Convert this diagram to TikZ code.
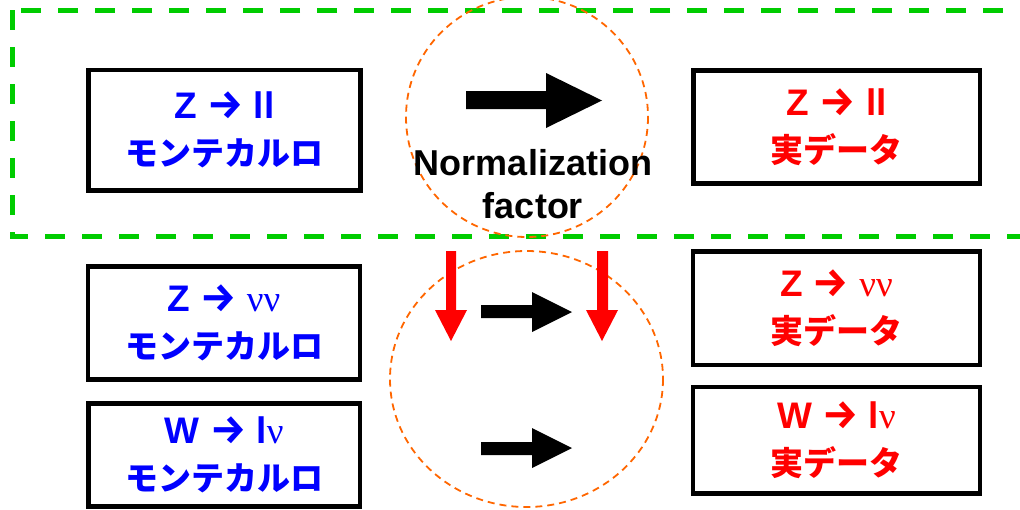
\documentclass[tikz,border=0pt]{standalone}
\usepackage{fontspec}
\setmainfont{Liberation Sans}
\newfontfamily\jpf{Noto Sans CJK JP}
\newfontfamily\latf{Liberation Sans}[Scale=1.12]
\newfontfamily\grkf{Liberation Serif}[Scale=1.12]
\newfontfamily\arwf{Fira Sans}[Scale=1.22]
\newcommand\arw{{\arwf\bfseries →}}
\definecolor{dgreen}{RGB}{0,204,0}
\definecolor{dorange}{RGB}{255,102,0}
\definecolor{mcblue}{RGB}{0,0,255}
\definecolor{dred}{RGB}{255,0,0}
\tikzset{
  box/.style={draw=black, line width=4.5pt, rectangle, inner sep=0pt, align=center,
    font=\fontsize{33}{47}\selectfont},
  mcbox/.style={box, text=mcblue},
  databox/.style={box, text=dred},
  ring/.style={draw=dorange, line width=1.8pt, dash pattern=on 7pt off 5pt},
  region/.style={draw=dgreen, line width=5pt, dash pattern=on 20pt off 17pt},
  blackarrow/.style={fill=black},
  redarrow/.style={fill=dred},
  labeltext/.style={align=center, inner sep=0pt, font=\fontsize{36}{43}\selectfont\bfseries}
}
\begin{document}
\begin{tikzpicture}[x=1pt,y=-1pt]
\useasboundingbox (0,0) rectangle (1020,509);
\clip (0,0) rectangle (1020,509);

% green dashed region
\draw[region] (12,10) rectangle (1040,236);

% orange dashed circles
\draw[ring] (527,117) ellipse [x radius=121, y radius=120];
\draw[ring] (526.5,379) ellipse [x radius=136.5, y radius=128];

% boxes
\node[mcbox, minimum width=272pt, minimum height=120.5pt] (mc1) at (224.5,130.25)
  {{\latf\bfseries Z \arw\ ll}\\{\jpf\bfseries モンテカルロ}};
\node[databox, minimum width=286.5pt, minimum height=113pt] (dat1) at (836.75,127)
  {{\latf\bfseries Z \arw\ ll}\\{\jpf\bfseries 実データ}};
\node[mcbox, minimum width=272pt, minimum height=113pt] (mc2) at (224,323)
  {{\latf\bfseries Z \arw\ }{\grkf νν}\\{\jpf\bfseries モンテカルロ}};
\node[databox, minimum width=287pt, minimum height=113.5pt] (dat2) at (836.5,308.25)
  {{\latf\bfseries Z \arw\ }{\grkf νν}\\{\jpf\bfseries 実データ}};
\node[mcbox, minimum width=271.5pt, minimum height=103pt] (mc3) at (224.25,455)
  {{\latf\bfseries W \arw\ l}{\grkf ν}\\{\jpf\bfseries モンテカルロ}};
\node[databox, minimum width=287pt, minimum height=106.5pt] (dat3) at (836.5,440.25)
  {{\latf\bfseries W \arw\ l}{\grkf ν}\\{\jpf\bfseries 実データ}};

% block arrows
\fill[blackarrow] (466,91) -- (546,91) -- (546,73) -- (602,100.5) -- (546,128) -- (546,109) -- (466,109) -- cycle;
\fill[blackarrow] (481,305) -- (532,305) -- (532,292) -- (572,312) -- (532,332) -- (532,318) -- (481,318) -- cycle;
\fill[blackarrow] (481,442) -- (532,442) -- (532,428) -- (572,448) -- (532,468) -- (532,455) -- (481,455) -- cycle;
\fill[redarrow] (446,251) -- (456,251) -- (456,310) -- (467,310) -- (451,341) -- (435,310) -- (446,310) -- cycle;
\fill[redarrow] (597,251) -- (608,251) -- (608,310) -- (618,310) -- (602,341) -- (586,310) -- (597,310) -- cycle;

% label
\node[labeltext] (norm) at (533,184) {Normalization\\factor};
\end{tikzpicture}
\end{document}
